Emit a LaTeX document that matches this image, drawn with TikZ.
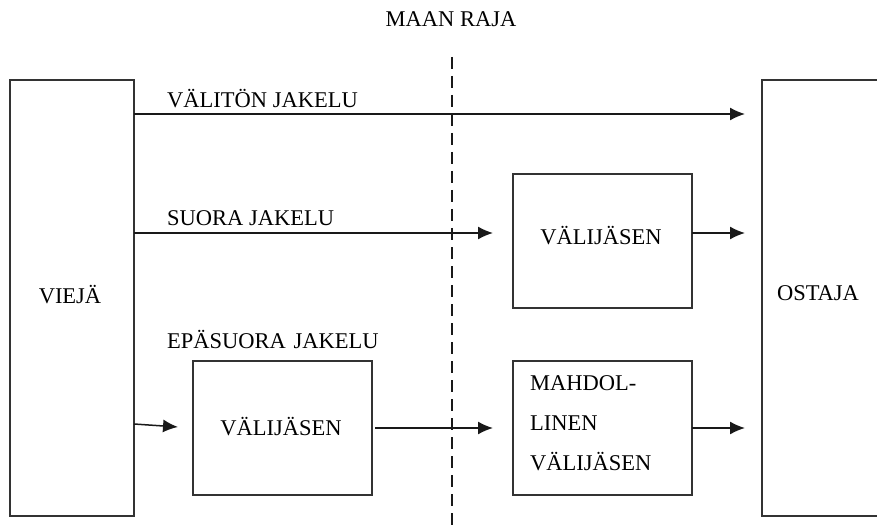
\documentclass[tikz,border=0pt]{standalone}
\usepackage{fontspec}
\setmainfont{Liberation Serif}
\usetikzlibrary{arrows.meta}
\begin{document}
\begin{tikzpicture}[x=1pt,y=-1pt,
  every node/.style={font=\fontsize{22.5}{40}\selectfont},
  box/.style={draw=black!80, line width=1.8pt, inner sep=0pt, outer sep=0pt, anchor=north west},
  lbl/.style={inner sep=0pt, anchor=west},
  arr/.style={draw=black!90, line width=1.5pt, -{Latex[length=15pt,width=13pt]}},
  border/.style={draw=black!90, line width=1.5pt, dash pattern=on 12pt off 7pt}]
\useasboundingbox (0,0) rectangle (877,529);
% boxes
\node[box, minimum width=124pt, minimum height=436pt] (vieja) at (10,80) {};
\node at (70,295) (viejat) {VIEJÄ};
\node[box, minimum width=120pt, minimum height=436pt] (ostaja) at (762,80) {};
\node at (818,293) (ostajat) {OSTAJA};
\node[box, minimum width=179pt, minimum height=134pt] (v1) at (513,174) {};
\node at (601,236) (v1t) {VÄLIJÄSEN};
\node[box, minimum width=179pt, minimum height=134pt] (v2) at (193,361) {};
\node at (281,427) (v2t) {VÄLIJÄSEN};
\node[box, minimum width=179pt, minimum height=134pt] (m) at (513,361) {};
\node[inner sep=0pt, anchor=north west, align=left] (mt) at (530,375) {MAHDOL-\\LINEN\\VÄLIJÄSEN};
% labels
\node[lbl] (l1) at (167,99) {VÄLITÖN JAKELU};
\node[lbl] (l2) at (167,218) {SUORA JAKELU};
\node[lbl] (l3) at (167,339) {EPÄSUORA\hspace{2pt} JAKELU};
\node (raja) at (451,19) {MAAN RAJA};
% border line
\coordinate (rtop) at (452,57);
\coordinate (rbot) at (452,532);
\draw[border] (rtop) -- (rbot);
% connectors
\coordinate (y1) at (0,114);
\coordinate (y2) at (0,233);
\coordinate (y3) at (0,424);
\draw[arr, shorten >=17pt] (vieja.east |- y1) -- (ostaja.west |- y1);
\draw[arr, shorten >=20pt] (vieja.east |- y2) -- (v1.west |- y2);
\draw[arr, shorten >=17pt] (v1.east |- y2) -- (ostaja.west |- y2);
\draw[arr, shorten >=15pt] (vieja.east |- y3) -- (v2.west);
\draw[arr, shorten >=20pt, shorten <=3pt] (v2.east) -- (m.west);
\draw[arr, shorten >=17pt] (m.east) -- (ostaja.west |- m.east);
\end{tikzpicture}
\end{document}
